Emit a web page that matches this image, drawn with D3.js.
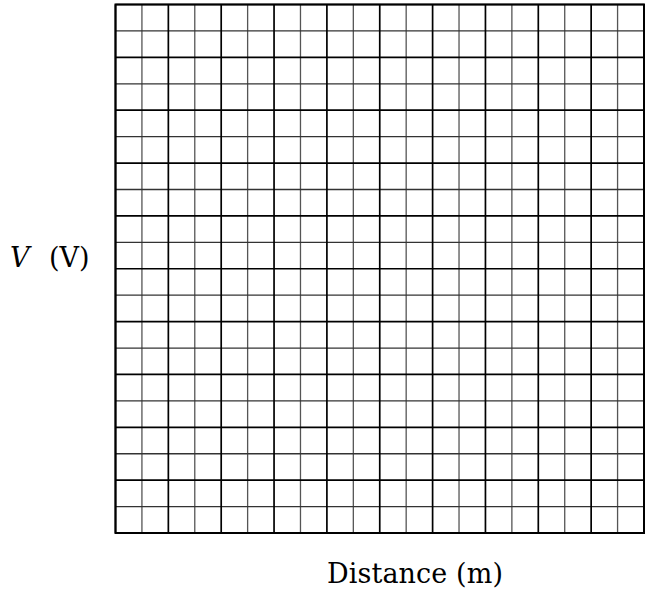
<!DOCTYPE html>
<html><head><meta charset="utf-8">
<script src="https://cdn.jsdelivr.net/npm/d3@7"></script>
<style>body{margin:0;background:#fff}svg{display:block}
.lbl{font-family:"DejaVu Serif","Liberation Serif",serif;fill:#000}</style>
</head><body>
<script>
// Blank graph-paper chart: no data series, only grid divisions and axis labels
const xDomain = [0, 20];
const yDomain = [0, 20];
const xGridValues = d3.range(0, 21, 1);
const yGridValues = d3.range(0, 21, 1);
const xLabel = "Distance (m)";
const yLabelVar = "V";
const yLabelUnit = "(V)";

const W = 649, H = 596;
const m = {left: 115.5, right: 5, top: 4.5, bottom: 63};
const svg = d3.select("body").append("svg").attr("width", W).attr("height", H);
const x = d3.scaleLinear().domain(xDomain).range([m.left, W - m.right]);
const y = d3.scaleLinear().domain(yDomain).range([H - m.bottom, m.top]);

const g = svg.append("g");
// minor lines first
g.selectAll("line.vx").data(xGridValues.filter(d => d % 2 === 1)).join("line")
  .attr("x1", d => x(d)).attr("x2", d => x(d)).attr("y1", y(yDomain[0])).attr("y2", y(yDomain[1]))
  .attr("stroke", "#555").attr("stroke-width", 1.3);
g.selectAll("line.hy").data(yGridValues.filter(d => d % 2 === 1)).join("line")
  .attr("y1", d => y(d)).attr("y2", d => y(d)).attr("x1", x(xDomain[0])).attr("x2", x(xDomain[1]))
  .attr("stroke", "#333").attr("stroke-width", 1.3);
// major lines
g.selectAll("line.mx").data(xGridValues.filter(d => d % 2 === 0)).join("line")
  .attr("x1", d => x(d)).attr("x2", d => x(d)).attr("y1", y(yDomain[0])).attr("y2", y(yDomain[1]))
  .attr("stroke", "#000").attr("stroke-width", 1.7);
g.selectAll("line.my").data(yGridValues.filter(d => d % 2 === 0)).join("line")
  .attr("y1", d => y(d)).attr("y2", d => y(d)).attr("x1", x(xDomain[0])).attr("x2", x(xDomain[1]))
  .attr("stroke", "#000").attr("stroke-width", 1.7);
// frame
svg.append("rect").attr("x", x(xDomain[0])).attr("y", y(yDomain[1]))
  .attr("width", x(xDomain[1]) - x(xDomain[0])).attr("height", y(yDomain[0]) - y(yDomain[1]))
  .attr("fill", "none").attr("stroke", "#000").attr("stroke-width", 2);

svg.append("text").attr("class", "lbl").attr("x", 327).attr("y", 583)
  .attr("font-size", 27)
  .attr("textLength", 176).attr("lengthAdjust", "spacing")
  .text(xLabel);
const yl = svg.append("text").attr("class", "lbl").attr("y", 267)
  .attr("font-size", 27);
yl.append("tspan").attr("x", 10).attr("font-style", "italic").text(yLabelVar);
yl.append("tspan").attr("x", 49).text(yLabelUnit);
</script>
</body></html>
